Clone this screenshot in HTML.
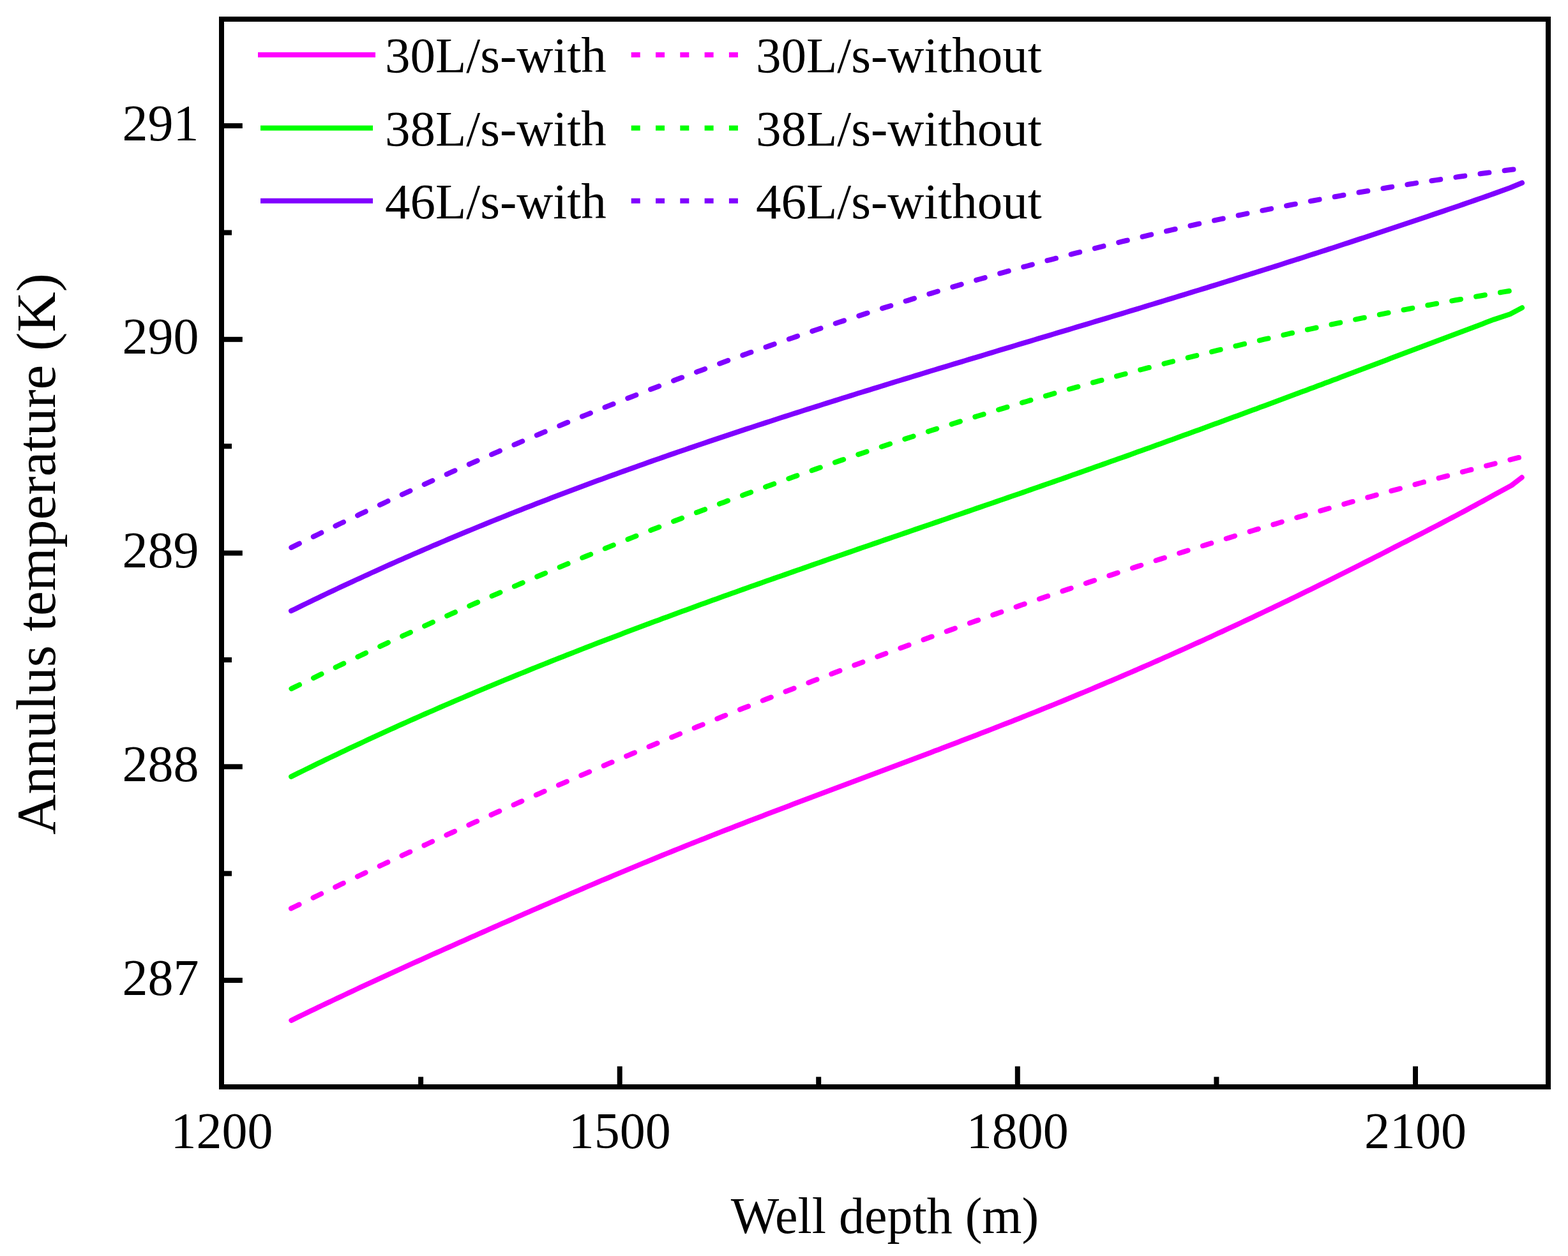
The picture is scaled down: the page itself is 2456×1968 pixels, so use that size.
<!DOCTYPE html>
<html><head><meta charset="utf-8"><title>Annulus temperature vs well depth</title>
<style>
html,body{margin:0;padding:0;background:#fff;}
body{width:2456px;height:1968px;overflow:hidden;}
svg{display:block;}
text{font-family:"Liberation Serif","Times New Roman",serif;fill:#000;}
</style></head><body>
<svg width="2456" height="1968" viewBox="0 0 2456 1968">
<rect x="0" y="0" width="2456" height="1968" fill="#fff"/>
<g fill="none" stroke-width="8" stroke-linecap="round" stroke-linejoin="round">
<path d="M456.3 1598.8L462.3 1595.9L468.3 1592.9L474.3 1590L480.3 1587.1L486.3 1584.2L492.3 1581.3L498.3 1578.4L504.3 1575.5L510.3 1572.7L516.3 1569.8L522.3 1567L528.3 1564.1L534.3 1561.3L540.3 1558.5L546.3 1555.6L552.3 1552.8L558.3 1550L564.3 1547.2L570.3 1544.4L576.3 1541.7L582.3 1538.9L588.3 1536.1L594.3 1533.3L600.3 1530.6L606.3 1527.8L612.3 1525.1L618.3 1522.3L624.3 1519.6L630.3 1516.9L636.3 1514.1L642.3 1511.4L648.3 1508.7L654.3 1506L660.3 1503.3L666.3 1500.6L672.3 1497.9L678.3 1495.2L684.3 1492.5L690.3 1489.8L696.3 1487.1L702.3 1484.5L708.3 1481.8L714.3 1479.1L720.3 1476.4L726.3 1473.8L732.3 1471.1L738.3 1468.4L744.3 1465.8L750.3 1463.1L756.3 1460.5L762.3 1457.8L768.3 1455.2L774.3 1452.5L780.3 1449.9L786.3 1447.2L792.3 1444.6L798.3 1442L804.3 1439.3L810.3 1436.7L816.3 1434.1L822.3 1431.4L828.3 1428.8L834.3 1426.2L840.3 1423.6L846.3 1421L852.3 1418.4L858.3 1415.8L864.3 1413.2L870.3 1410.6L876.3 1408L882.3 1405.4L888.3 1402.8L894.3 1400.2L900.3 1397.6L906.3 1395.1L912.3 1392.5L918.3 1389.9L924.3 1387.4L930.3 1384.8L936.3 1382.3L942.3 1379.7L948.3 1377.2L954.3 1374.7L960.3 1372.1L966.3 1369.6L972.3 1367.1L978.3 1364.6L984.3 1362.1L990.3 1359.6L996.3 1357.1L1002.3 1354.6L1008.3 1352.1L1014.3 1349.7L1020.3 1347.2L1026.3 1344.7L1032.3 1342.3L1038.3 1339.8L1044.3 1337.4L1050.3 1335L1056.3 1332.5L1062.3 1330.1L1068.3 1327.7L1074.3 1325.3L1080.3 1322.9L1086.3 1320.5L1092.3 1318.1L1098.3 1315.7L1104.3 1313.4L1110.3 1311L1116.3 1308.6L1122.3 1306.3L1128.3 1303.9L1134.3 1301.6L1140.3 1299.2L1146.3 1296.9L1152.3 1294.6L1158.3 1292.2L1164.3 1289.9L1170.3 1287.6L1176.3 1285.3L1182.3 1283L1188.3 1280.7L1194.3 1278.4L1200.3 1276.1L1206.3 1273.8L1212.3 1271.5L1218.3 1269.2L1224.3 1266.9L1230.3 1264.7L1236.3 1262.4L1242.3 1260.1L1248.3 1257.8L1254.3 1255.6L1260.3 1253.3L1266.3 1251L1272.3 1248.8L1278.3 1246.5L1284.3 1244.3L1290.3 1242L1296.3 1239.8L1302.3 1237.5L1308.3 1235.3L1314.3 1233L1320.3 1230.8L1326.3 1228.5L1332.3 1226.3L1338.3 1224L1344.3 1221.8L1350.3 1219.5L1356.3 1217.3L1362.3 1215L1368.3 1212.8L1374.3 1210.5L1380.3 1208.3L1386.3 1206L1392.3 1203.8L1398.3 1201.5L1404.3 1199.3L1410.3 1197L1416.3 1194.8L1422.3 1192.5L1428.3 1190.2L1434.3 1188L1440.3 1185.7L1446.3 1183.4L1452.3 1181.2L1458.3 1178.9L1464.3 1176.6L1470.3 1174.4L1476.3 1172.1L1482.3 1169.8L1488.3 1167.5L1494.3 1165.2L1500.3 1162.9L1506.3 1160.6L1512.3 1158.3L1518.3 1156L1524.3 1153.7L1530.3 1151.4L1536.3 1149.1L1542.3 1146.8L1548.3 1144.5L1554.3 1142.1L1560.3 1139.8L1566.3 1137.4L1572.3 1135.1L1578.3 1132.7L1584.3 1130.4L1590.3 1128L1596.3 1125.7L1602.3 1123.3L1608.3 1120.9L1614.3 1118.5L1620.3 1116.1L1626.3 1113.7L1632.3 1111.3L1638.3 1108.9L1644.3 1106.5L1650.3 1104.1L1656.3 1101.6L1662.3 1099.2L1668.3 1096.7L1674.3 1094.3L1680.3 1091.8L1686.3 1089.3L1692.3 1086.8L1698.3 1084.4L1704.3 1081.9L1710.3 1079.3L1716.3 1076.8L1722.3 1074.3L1728.3 1071.8L1734.3 1069.2L1740.3 1066.7L1746.3 1064.1L1752.3 1061.6L1758.3 1059L1764.3 1056.4L1770.3 1053.8L1776.3 1051.3L1782.3 1048.7L1788.3 1046L1794.3 1043.4L1800.3 1040.8L1806.3 1038.2L1812.3 1035.5L1818.3 1032.9L1824.3 1030.2L1830.3 1027.6L1836.3 1024.9L1842.3 1022.2L1848.3 1019.5L1854.3 1016.8L1860.3 1014.1L1866.3 1011.4L1872.3 1008.7L1878.3 1006L1884.3 1003.3L1890.3 1000.5L1896.3 997.8L1902.3 995L1908.3 992.2L1914.3 989.5L1920.3 986.7L1926.3 983.9L1932.3 981.1L1938.3 978.3L1944.3 975.5L1950.3 972.7L1956.3 969.9L1962.3 967.1L1968.3 964.2L1974.3 961.4L1980.3 958.5L1986.3 955.7L1992.3 952.8L1998.3 949.9L2004.3 947.1L2010.3 944.2L2016.3 941.3L2022.3 938.4L2028.3 935.5L2034.3 932.6L2040.3 929.6L2046.3 926.7L2052.3 923.8L2058.3 920.8L2064.3 917.9L2070.3 914.9L2076.3 912L2082.3 909L2088.3 906L2094.3 903L2100.3 900L2106.3 897L2112.3 894L2118.3 891L2124.3 888L2130.3 885L2136.3 881.9L2142.3 878.9L2148.3 875.9L2154.3 872.8L2160.3 869.8L2166.3 866.7L2172.3 863.6L2178.3 860.5L2184.3 857.4L2190.3 854.4L2196.3 851.3L2202.3 848.3L2208.3 845.2L2214.3 842.2L2220.3 839.1L2226.3 836.1L2232.3 833L2238.3 829.9L2244.3 826.8L2250.3 823.7L2256.3 820.6L2262.3 817.4L2268.3 814.3L2274.3 811.1L2280.3 808L2286.3 804.8L2292.3 801.6L2298.3 798.4L2304.3 795.1L2310.3 791.9L2316.3 788.6L2322.3 785.4L2328.3 782.1L2334.3 778.8L2340 775.6L2367.6 760.5L2383.7 748.1" stroke="#ff00ff"/>
<path d="M456 1423.4L462 1420.5L468 1417.6L474 1414.6L480 1411.7L486 1408.8L492 1405.9L498 1403L504 1400.1L510 1397.2L516 1394.4L522 1391.5L528 1388.6L534 1385.7L540 1382.9L546 1380L552 1377.2L558 1374.3L564 1371.5L570 1368.6L576 1365.8L582 1362.9L588 1360.1L594 1357.3L600 1354.5L606 1351.7L612 1348.8L618 1346L624 1343.2L630 1340.4L636 1337.7L642 1334.9L648 1332.1L654 1329.3L660 1326.5L666 1323.8L672 1321L678 1318.2L684 1315.5L690 1312.7L696 1310L702 1307.2L708 1304.5L714 1301.8L720 1299L726 1296.3L732 1293.6L738 1290.9L744 1288.2L750 1285.5L756 1282.8L762 1280.1L768 1277.4L774 1274.7L780 1272L786 1269.3L792 1266.7L798 1264L804 1261.3L810 1258.7L816 1256L822 1253.4L828 1250.7L834 1248.1L840 1245.5L846 1242.8L852 1240.2L858 1237.6L864 1235L870 1232.3L876 1229.7L882 1227.1L888 1224.5L894 1221.9L900 1219.3L906 1216.8L912 1214.2L918 1211.6L924 1209L930 1206.5L936 1203.9L942 1201.3L948 1198.8L954 1196.2L960 1193.7L966 1191.1L972 1188.6L978 1186.1L984 1183.6L990 1181L996 1178.5L1002 1176L1008 1173.5L1014 1171L1020 1168.5L1026 1166L1032 1163.5L1038 1161L1044 1158.5L1050 1156.1L1056 1153.6L1062 1151.1L1068 1148.6L1074 1146.2L1080 1143.7L1086 1141.3L1092 1138.8L1098 1136.4L1104 1134L1110 1131.5L1116 1129.1L1122 1126.7L1128 1124.3L1134 1121.8L1140 1119.4L1146 1117L1152 1114.6L1158 1112.2L1164 1109.8L1170 1107.5L1176 1105.1L1182 1102.7L1188 1100.3L1194 1097.9L1200 1095.6L1206 1093.2L1212 1090.9L1218 1088.5L1224 1086.2L1230 1083.8L1236 1081.5L1242 1079.2L1248 1076.8L1254 1074.5L1260 1072.2L1266 1069.9L1272 1067.6L1278 1065.3L1284 1063L1290 1060.7L1296 1058.4L1302 1056.1L1308 1053.8L1314 1051.5L1320 1049.2L1326 1047L1332 1044.7L1338 1042.4L1344 1040.2L1350 1037.9L1356 1035.7L1362 1033.4L1368 1031.2L1374 1029L1380 1026.7L1386 1024.5L1392 1022.3L1398 1020.1L1404 1017.9L1410 1015.6L1416 1013.4L1422 1011.2L1428 1009.1L1434 1006.9L1440 1004.7L1446 1002.5L1452 1000.3L1458 998.1L1464 996L1470 993.8L1476 991.7L1482 989.5L1488 987.4L1494 985.2L1500 983.1L1506 980.9L1512 978.8L1518 976.7L1524 974.5L1530 972.4L1536 970.3L1542 968.2L1548 966.1L1554 964L1560 961.9L1566 959.8L1572 957.7L1578 955.6L1584 953.6L1590 951.5L1596 949.4L1602 947.3L1608 945.3L1614 943.2L1620 941.2L1626 939.1L1632 937.1L1638 935L1644 933L1650 931L1656 929L1662 926.9L1668 924.9L1674 922.9L1680 920.9L1686 918.9L1692 916.9L1698 914.9L1704 912.9L1710 910.9L1716 908.9L1722 907L1728 905L1734 903L1740 901.1L1746 899.1L1752 897.1L1758 895.2L1764 893.2L1770 891.3L1776 889.4L1782 887.4L1788 885.5L1794 883.6L1800 881.7L1806 879.7L1812 877.8L1818 875.9L1824 874L1830 872.1L1836 870.2L1842 868.3L1848 866.5L1854 864.6L1860 862.7L1866 860.8L1872 859L1878 857.1L1884 855.2L1890 853.4L1896 851.5L1902 849.7L1908 847.9L1914 846L1920 844.2L1926 842.4L1932 840.5L1938 838.7L1944 836.9L1950 835.1L1956 833.3L1962 831.5L1968 829.7L1974 827.9L1980 826.1L1986 824.3L1992 822.5L1998 820.8L2004 819L2010 817.2L2016 815.5L2022 813.7L2028 812L2034 810.2L2040 808.5L2046 806.7L2052 805L2058 803.3L2064 801.5L2070 799.8L2076 798.1L2082 796.4L2088 794.7L2094 793L2100 791.3L2106 789.6L2112 787.9L2118 786.2L2124 784.5L2130 782.8L2136 781.1L2142 779.5L2148 777.8L2154 776.1L2160 774.5L2166 772.8L2172 771.2L2178 769.5L2184 767.9L2190 766.3L2196 764.6L2202 763L2208 761.4L2214 759.8L2220 758.1L2226 756.5L2232 754.9L2238 753.3L2244 751.7L2250 750.1L2256 748.5L2262 747L2268 745.4L2274 743.8L2280 742.2L2286 740.7L2292 739.1L2298 737.5L2304 736L2310 734.4L2316 732.9L2322 731.4L2328 729.8L2334 728.3L2340 726.8L2346 725.2L2352 723.7L2358 722.2L2364 720.7L2370 719.2L2376 717.7L2382 716.2L2384.1 715.7" stroke="#ff00ff" stroke-dasharray="14 24.461" stroke-dashoffset="0.07"/>
<path d="M456.1 1216.9L462.1 1213.9L468.1 1210.9L474.1 1208L480.1 1205L486.1 1202.1L492.1 1199.1L498.1 1196.2L504.1 1193.3L510.1 1190.4L516.1 1187.5L522.1 1184.6L528.1 1181.8L534.1 1178.9L540.1 1176.1L546.1 1173.2L552.1 1170.4L558.1 1167.6L564.1 1164.8L570.1 1162L576.1 1159.2L582.1 1156.4L588.1 1153.6L594.1 1150.9L600.1 1148.1L606.1 1145.4L612.1 1142.7L618.1 1140L624.1 1137.2L630.1 1134.5L636.1 1131.9L642.1 1129.2L648.1 1126.5L654.1 1123.8L660.1 1121.2L666.1 1118.5L672.1 1115.9L678.1 1113.3L684.1 1110.7L690.1 1108L696.1 1105.4L702.1 1102.8L708.1 1100.3L714.1 1097.7L720.1 1095.1L726.1 1092.6L732.1 1090L738.1 1087.5L744.1 1084.9L750.1 1082.4L756.1 1079.9L762.1 1077.4L768.1 1074.9L774.1 1072.4L780.1 1069.9L786.1 1067.4L792.1 1064.9L798.1 1062.5L804.1 1060L810.1 1057.5L816.1 1055.1L822.1 1052.7L828.1 1050.2L834.1 1047.8L840.1 1045.4L846.1 1043L852.1 1040.6L858.1 1038.2L864.1 1035.8L870.1 1033.4L876.1 1031L882.1 1028.7L888.1 1026.3L894.1 1024L900.1 1021.6L906.1 1019.3L912.1 1016.9L918.1 1014.6L924.1 1012.3L930.1 1009.9L936.1 1007.6L942.1 1005.3L948.1 1003L954.1 1000.7L960.1 998.4L966.1 996.2L972.1 993.9L978.1 991.6L984.1 989.3L990.1 987.1L996.1 984.8L1002.1 982.6L1008.1 980.3L1014.1 978.1L1020.1 975.8L1026.1 973.6L1032.1 971.4L1038.1 969.1L1044.1 966.9L1050.1 964.7L1056.1 962.5L1062.1 960.3L1068.1 958.1L1074.1 955.9L1080.1 953.7L1086.1 951.5L1092.1 949.3L1098.1 947.1L1104.1 945L1110.1 942.8L1116.1 940.6L1122.1 938.5L1128.1 936.3L1134.1 934.1L1140.1 932L1146.1 929.8L1152.1 927.7L1158.1 925.5L1164.1 923.4L1170.1 921.3L1176.1 919.1L1182.1 917L1188.1 914.9L1194.1 912.8L1200.1 910.6L1206.1 908.5L1212.1 906.4L1218.1 904.3L1224.1 902.2L1230.1 900.1L1236.1 898L1242.1 895.9L1248.1 893.8L1254.1 891.7L1260.1 889.6L1266.1 887.5L1272.1 885.4L1278.1 883.3L1284.1 881.2L1290.1 879.1L1296.1 877L1302.1 874.9L1308.1 872.9L1314.1 870.8L1320.1 868.7L1326.1 866.6L1332.1 864.6L1338.1 862.5L1344.1 860.4L1350.1 858.3L1356.1 856.3L1362.1 854.2L1368.1 852.1L1374.1 850.1L1380.1 848L1386.1 845.9L1392.1 843.9L1398.1 841.8L1404.1 839.7L1410.1 837.7L1416.1 835.6L1422.1 833.6L1428.1 831.5L1434.1 829.4L1440.1 827.4L1446.1 825.3L1452.1 823.3L1458.1 821.2L1464.1 819.1L1470.1 817.1L1476.1 815L1482.1 813L1488.1 810.9L1494.1 808.8L1500.1 806.8L1506.1 804.7L1512.1 802.6L1518.1 800.6L1524.1 798.5L1530.1 796.4L1536.1 794.4L1542.1 792.3L1548.1 790.2L1554.1 788.2L1560.1 786.1L1566.1 784L1572.1 782L1578.1 779.9L1584.1 777.8L1590.1 775.7L1596.1 773.7L1602.1 771.6L1608.1 769.5L1614.1 767.4L1620.1 765.3L1626.1 763.2L1632.1 761.1L1638.1 759L1644.1 757L1650.1 754.9L1656.1 752.8L1662.1 750.7L1668.1 748.6L1674.1 746.4L1680.1 744.3L1686.1 742.2L1692.1 740.1L1698.1 738L1704.1 735.9L1710.1 733.8L1716.1 731.6L1722.1 729.5L1728.1 727.4L1734.1 725.3L1740.1 723.1L1746.1 721L1752.1 718.8L1758.1 716.7L1764.1 714.6L1770.1 712.4L1776.1 710.3L1782.1 708.1L1788.1 706L1794.1 703.8L1800.1 701.7L1806.1 699.5L1812.1 697.3L1818.1 695.2L1824.1 693L1830.1 690.8L1836.1 688.7L1842.1 686.5L1848.1 684.3L1854.1 682.1L1860.1 680L1866.1 677.8L1872.1 675.6L1878.1 673.4L1884.1 671.2L1890.1 669L1896.1 666.8L1902.1 664.6L1908.1 662.4L1914.1 660.2L1920.1 658L1926.1 655.8L1932.1 653.6L1938.1 651.4L1944.1 649.2L1950.1 647L1956.1 644.8L1962.1 642.6L1968.1 640.4L1974.1 638.1L1980.1 635.9L1986.1 633.7L1992.1 631.5L1998.1 629.2L2004.1 627L2010.1 624.8L2016.1 622.5L2022.1 620.3L2028.1 618.1L2034.1 615.8L2040.1 613.6L2046.1 611.4L2052.1 609.1L2058.1 606.9L2064.1 604.6L2070.1 602.4L2076.1 600.1L2082.1 597.9L2088.1 595.6L2094.1 593.4L2100.1 591.1L2106.1 588.8L2112.1 586.6L2118.1 584.3L2124.1 582L2130.1 579.8L2136.1 577.5L2142.1 575.2L2148.1 573L2154.1 570.7L2160.1 568.4L2166.1 566.2L2172.1 563.9L2178.1 561.6L2184.1 559.3L2190.1 557L2196.1 554.8L2202.1 552.5L2208.1 550.3L2214.1 548.1L2220.1 545.8L2226.1 543.6L2232.1 541.3L2238.1 539.1L2244.1 536.8L2250.1 534.5L2256.1 532.3L2262.1 530L2268.1 527.8L2274.1 525.5L2280.1 523.3L2286.1 521L2292.1 518.7L2298.1 516.5L2304.1 514.2L2310.1 511.9L2316.1 509.7L2322.1 507.4L2328.1 505.1L2334.1 502.8L2340 500.6L2365.2 492.2L2384 482.2" stroke="#00ff00"/>
<path d="M456 1079.3L462 1076.4L468 1073.5L474 1070.5L480 1067.6L486 1064.7L492 1061.8L498 1058.9L504 1056L510 1053.1L516 1050.3L522 1047.4L528 1044.5L534 1041.7L540 1038.8L546 1036L552 1033.1L558 1030.3L564 1027.5L570 1024.6L576 1021.8L582 1019L588 1016.2L594 1013.4L600 1010.6L606 1007.8L612 1005.1L618 1002.3L624 999.5L630 996.8L636 994L642 991.3L648 988.5L654 985.8L660 983.1L666 980.3L672 977.6L678 974.9L684 972.2L690 969.5L696 966.8L702 964.1L708 961.4L714 958.8L720 956.1L726 953.4L732 950.8L738 948.1L744 945.5L750 942.9L756 940.2L762 937.6L768 935L774 932.4L780 929.8L786 927.2L792 924.6L798 922L804 919.4L810 916.8L816 914.3L822 911.7L828 909.1L834 906.6L840 904L846 901.5L852 899L858 896.4L864 893.9L870 891.4L876 888.9L882 886.4L888 883.9L894 881.4L900 878.9L906 876.5L912 874L918 871.5L924 869.1L930 866.6L936 864.2L942 861.7L948 859.3L954 856.9L960 854.4L966 852L972 849.6L978 847.2L984 844.8L990 842.4L996 840L1002 837.7L1008 835.3L1014 832.9L1020 830.6L1026 828.2L1032 825.9L1038 823.5L1044 821.2L1050 818.9L1056 816.5L1062 814.2L1068 811.9L1074 809.6L1080 807.3L1086 805L1092 802.7L1098 800.4L1104 798.2L1110 795.9L1116 793.6L1122 791.4L1128 789.1L1134 786.9L1140 784.6L1146 782.4L1152 780.2L1158 778L1164 775.8L1170 773.6L1176 771.4L1182 769.2L1188 767L1194 764.8L1200 762.6L1206 760.4L1212 758.3L1218 756.1L1224 754L1230 751.8L1236 749.7L1242 747.5L1248 745.4L1254 743.3L1260 741.2L1266 739.1L1272 737L1278 734.9L1284 732.8L1290 730.7L1296 728.6L1302 726.6L1308 724.5L1314 722.4L1320 720.4L1326 718.3L1332 716.3L1338 714.2L1344 712.2L1350 710.2L1356 708.2L1362 706.2L1368 704.2L1374 702.2L1380 700.2L1386 698.2L1392 696.2L1398 694.2L1404 692.3L1410 690.3L1416 688.3L1422 686.4L1428 684.5L1434 682.5L1440 680.6L1446 678.7L1452 676.7L1458 674.8L1464 672.9L1470 671L1476 669.1L1482 667.2L1488 665.4L1494 663.5L1500 661.6L1506 659.7L1512 657.9L1518 656L1524 654.2L1530 652.3L1536 650.5L1542 648.7L1548 646.9L1554 645L1560 643.2L1566 641.4L1572 639.6L1578 637.8L1584 636.1L1590 634.3L1596 632.5L1602 630.7L1608 629L1614 627.2L1620 625.5L1626 623.7L1632 622L1638 620.3L1644 618.6L1650 616.8L1656 615.1L1662 613.4L1668 611.7L1674 610L1680 608.3L1686 606.7L1692 605L1698 603.3L1704 601.6L1710 600L1716 598.3L1722 596.7L1728 595.1L1734 593.4L1740 591.8L1746 590.2L1752 588.6L1758 587L1764 585.4L1770 583.8L1776 582.2L1782 580.6L1788 579L1794 577.4L1800 575.9L1806 574.3L1812 572.8L1818 571.2L1824 569.7L1830 568.1L1836 566.6L1842 565.1L1848 563.6L1854 562.1L1860 560.6L1866 559.1L1872 557.6L1878 556.1L1884 554.6L1890 553.1L1896 551.7L1902 550.2L1908 548.7L1914 547.3L1920 545.8L1926 544.4L1932 543L1938 541.6L1944 540.1L1950 538.7L1956 537.3L1962 535.9L1968 534.5L1974 533.1L1980 531.7L1986 530.4L1992 529L1998 527.6L2004 526.3L2010 524.9L2016 523.6L2022 522.2L2028 520.9L2034 519.6L2040 518.2L2046 516.9L2052 515.6L2058 514.3L2064 513L2070 511.7L2076 510.4L2082 509.2L2088 507.9L2094 506.6L2100 505.4L2106 504.1L2112 502.9L2118 501.6L2124 500.4L2130 499.1L2136 497.9L2142 496.7L2148 495.5L2154 494.3L2160 493.1L2166 491.9L2172 490.7L2178 489.5L2184 488.3L2190 487.2L2196 486L2202 484.8L2208 483.7L2214 482.5L2220 481.4L2226 480.3L2232 479.1L2238 478L2244 476.9L2250 475.8L2256 474.7L2262 473.6L2268 472.5L2274 471.4L2280 470.3L2286 469.3L2292 468.2L2298 467.1L2304 466.1L2310 465L2316 464L2322 463L2328 461.9L2334 460.9L2340 459.9L2346 458.9L2352 457.9L2358 456.9L2364 455.9L2370 454.9L2376 453.9L2382 452.9L2383.8 452.6" stroke="#00ff00" stroke-dasharray="14 24.457" stroke-dashoffset="38.01"/>
<path d="M456 957.2L462 954.3L468 951.3L474 948.4L480 945.5L486 942.6L492 939.7L498 936.8L504 933.9L510 931L516 928.2L522 925.3L528 922.5L534 919.7L540 916.9L546 914.1L552 911.3L558 908.5L564 905.8L570 903L576 900.3L582 897.5L588 894.8L594 892.1L600 889.4L606 886.7L612 884L618 881.4L624 878.7L630 876.1L636 873.4L642 870.8L648 868.2L654 865.6L660 863L666 860.4L672 857.8L678 855.2L684 852.7L690 850.1L696 847.6L702 845L708 842.5L714 840L720 837.5L726 835L732 832.5L738 830.1L744 827.6L750 825.1L756 822.7L762 820.2L768 817.8L774 815.4L780 813L786 810.6L792 808.2L798 805.8L804 803.4L810 801.1L816 798.7L822 796.3L828 794L834 791.7L840 789.3L846 787L852 784.7L858 782.4L864 780.1L870 777.8L876 775.5L882 773.2L888 771L894 768.7L900 766.5L906 764.2L912 762L918 759.8L924 757.5L930 755.3L936 753.1L942 750.9L948 748.7L954 746.5L960 744.4L966 742.2L972 740L978 737.9L984 735.7L990 733.6L996 731.4L1002 729.3L1008 727.2L1014 725L1020 722.9L1026 720.8L1032 718.7L1038 716.6L1044 714.5L1050 712.4L1056 710.4L1062 708.3L1068 706.2L1074 704.2L1080 702.1L1086 700.1L1092 698L1098 696L1104 694L1110 691.9L1116 689.9L1122 687.9L1128 685.9L1134 683.9L1140 681.9L1146 679.9L1152 677.9L1158 675.9L1164 673.9L1170 671.9L1176 670L1182 668L1188 666L1194 664.1L1200 662.1L1206 660.2L1212 658.2L1218 656.3L1224 654.3L1230 652.4L1236 650.5L1242 648.5L1248 646.6L1254 644.7L1260 642.8L1266 640.9L1272 639L1278 637.1L1284 635.2L1290 633.3L1296 631.4L1302 629.5L1308 627.6L1314 625.7L1320 623.8L1326 622L1332 620.1L1338 618.2L1344 616.3L1350 614.5L1356 612.6L1362 610.8L1368 608.9L1374 607.1L1380 605.2L1386 603.4L1392 601.5L1398 599.7L1404 597.8L1410 596L1416 594.1L1422 592.3L1428 590.5L1434 588.6L1440 586.8L1446 585L1452 583.2L1458 581.3L1464 579.5L1470 577.7L1476 575.9L1482 574.1L1488 572.2L1494 570.4L1500 568.6L1506 566.8L1512 565L1518 563.2L1524 561.4L1530 559.6L1536 557.8L1542 556L1548 554.2L1554 552.4L1560 550.5L1566 548.7L1572 546.9L1578 545.1L1584 543.3L1590 541.5L1596 539.7L1602 537.9L1608 536.1L1614 534.3L1620 532.5L1626 530.7L1632 528.9L1638 527.1L1644 525.3L1650 523.5L1656 521.7L1662 519.9L1668 518.1L1674 516.3L1680 514.5L1686 512.7L1692 510.9L1698 509.1L1704 507.3L1710 505.5L1716 503.7L1722 501.9L1728 500.1L1734 498.3L1740 496.5L1746 494.7L1752 492.9L1758 491.1L1764 489.2L1770 487.4L1776 485.6L1782 483.8L1788 482L1794 480.2L1800 478.3L1806 476.5L1812 474.7L1818 472.9L1824 471L1830 469.2L1836 467.4L1842 465.5L1848 463.7L1854 461.9L1860 460L1866 458.2L1872 456.3L1878 454.5L1884 452.6L1890 450.8L1896 448.9L1902 447.1L1908 445.2L1914 443.4L1920 441.5L1926 439.6L1932 437.8L1938 435.9L1944 434L1950 432.2L1956 430.3L1962 428.4L1968 426.5L1974 424.6L1980 422.7L1986 420.9L1992 419L1998 417.1L2004 415.2L2010 413.3L2016 411.3L2022 409.4L2028 407.5L2034 405.6L2040 403.7L2046 401.8L2052 399.8L2058 397.9L2064 396L2070 394L2076 392.1L2082 390.1L2088 388.2L2094 386.2L2100 384.3L2106 382.3L2112 380.4L2118 378.4L2124 376.4L2130 374.4L2136 372.5L2142 370.5L2148 368.5L2154 366.5L2160 364.5L2166 362.5L2172 360.5L2178 358.5L2184 356.5L2190 354.5L2196 352.5L2202 350.5L2208 348.5L2214 346.5L2220 344.5L2226 342.5L2232 340.5L2238 338.5L2244 336.4L2250 334.4L2256 332.4L2262 330.4L2268 328.3L2274 326.3L2280 324.2L2286 322.2L2292 320.1L2298 318L2304 316L2310 313.9L2316 311.8L2322 309.7L2328 307.6L2334 305.5L2340 303.4L2365.2 294.3L2384 286.5" stroke="#8000ff"/>
<path d="M455.9 858.1L461.9 855.1L467.9 852.2L473.9 849.2L479.9 846.3L485.9 843.3L491.9 840.4L497.9 837.5L503.9 834.5L509.9 831.6L515.9 828.7L521.9 825.8L527.9 822.9L533.9 820L539.9 817.2L545.9 814.3L551.9 811.4L557.9 808.6L563.9 805.7L569.9 802.9L575.9 800L581.9 797.2L587.9 794.4L593.9 791.6L599.9 788.8L605.9 786L611.9 783.2L617.9 780.4L623.9 777.6L629.9 774.8L635.9 772.1L641.9 769.3L647.9 766.6L653.9 763.8L659.9 761.1L665.9 758.3L671.9 755.6L677.9 752.9L683.9 750.2L689.9 747.5L695.9 744.8L701.9 742.1L707.9 739.4L713.9 736.8L719.9 734.1L725.9 731.4L731.9 728.8L737.9 726.1L743.9 723.5L749.9 720.9L755.9 718.3L761.9 715.6L767.9 713L773.9 710.4L779.9 707.8L785.9 705.2L791.9 702.7L797.9 700.1L803.9 697.5L809.9 695L815.9 692.4L821.9 689.9L827.9 687.3L833.9 684.8L839.9 682.3L845.9 679.8L851.9 677.2L857.9 674.7L863.9 672.2L869.9 669.8L875.9 667.3L881.9 664.8L887.9 662.3L893.9 659.9L899.9 657.4L905.9 655L911.9 652.5L917.9 650.1L923.9 647.7L929.9 645.3L935.9 642.8L941.9 640.4L947.9 638L953.9 635.6L959.9 633.3L965.9 630.9L971.9 628.5L977.9 626.2L983.9 623.8L989.9 621.5L995.9 619.1L1001.9 616.8L1007.9 614.5L1013.9 612.1L1019.9 609.8L1025.9 607.5L1031.9 605.2L1037.9 602.9L1043.9 600.6L1049.9 598.4L1055.9 596.1L1061.9 593.8L1067.9 591.6L1073.9 589.3L1079.9 587.1L1085.9 584.8L1091.9 582.6L1097.9 580.4L1103.9 578.2L1109.9 576L1115.9 573.8L1121.9 571.6L1127.9 569.4L1133.9 567.2L1139.9 565L1145.9 562.9L1151.9 560.7L1157.9 558.5L1163.9 556.4L1169.9 554.3L1175.9 552.1L1181.9 550L1187.9 547.9L1193.9 545.8L1199.9 543.7L1205.9 541.6L1211.9 539.5L1217.9 537.4L1223.9 535.3L1229.9 533.3L1235.9 531.2L1241.9 529.2L1247.9 527.1L1253.9 525.1L1259.9 523L1265.9 521L1271.9 519L1277.9 517L1283.9 515L1289.9 513L1295.9 511L1301.9 509L1307.9 507L1313.9 505L1319.9 503.1L1325.9 501.1L1331.9 499.2L1337.9 497.2L1343.9 495.3L1349.9 493.4L1355.9 491.4L1361.9 489.5L1367.9 487.6L1373.9 485.7L1379.9 483.8L1385.9 481.9L1391.9 480.1L1397.9 478.2L1403.9 476.3L1409.9 474.5L1415.9 472.6L1421.9 470.8L1427.9 468.9L1433.9 467.1L1439.9 465.3L1445.9 463.4L1451.9 461.6L1457.9 459.8L1463.9 458L1469.9 456.2L1475.9 454.5L1481.9 452.7L1487.9 450.9L1493.9 449.1L1499.9 447.4L1505.9 445.6L1511.9 443.9L1517.9 442.2L1523.9 440.4L1529.9 438.7L1535.9 437L1541.9 435.3L1547.9 433.6L1553.9 431.9L1559.9 430.2L1565.9 428.5L1571.9 426.9L1577.9 425.2L1583.9 423.5L1589.9 421.9L1595.9 420.2L1601.9 418.6L1607.9 417L1613.9 415.4L1619.9 413.7L1625.9 412.1L1631.9 410.5L1637.9 408.9L1643.9 407.3L1649.9 405.8L1655.9 404.2L1661.9 402.6L1667.9 401L1673.9 399.5L1679.9 397.9L1685.9 396.4L1691.9 394.9L1697.9 393.3L1703.9 391.8L1709.9 390.3L1715.9 388.8L1721.9 387.3L1727.9 385.8L1733.9 384.3L1739.9 382.8L1745.9 381.4L1751.9 379.9L1757.9 378.4L1763.9 377L1769.9 375.5L1775.9 374.1L1781.9 372.7L1787.9 371.2L1793.9 369.8L1799.9 368.4L1805.9 367L1811.9 365.6L1817.9 364.2L1823.9 362.8L1829.9 361.5L1835.9 360.1L1841.9 358.7L1847.9 357.4L1853.9 356L1859.9 354.7L1865.9 353.3L1871.9 352L1877.9 350.7L1883.9 349.4L1889.9 348.1L1895.9 346.8L1901.9 345.5L1907.9 344.2L1913.9 342.9L1919.9 341.6L1925.9 340.4L1931.9 339.1L1937.9 337.9L1943.9 336.6L1949.9 335.4L1955.9 334.1L1961.9 332.9L1967.9 331.7L1973.9 330.5L1979.9 329.3L1985.9 328.1L1991.9 326.9L1997.9 325.7L2003.9 324.5L2009.9 323.3L2015.9 322.2L2021.9 321L2027.9 319.9L2033.9 318.7L2039.9 317.6L2045.9 316.5L2051.9 315.3L2057.9 314.2L2063.9 313.1L2069.9 312L2075.9 310.9L2081.9 309.8L2087.9 308.7L2093.9 307.7L2099.9 306.6L2105.9 305.5L2111.9 304.5L2117.9 303.4L2123.9 302.4L2129.9 301.3L2135.9 300.3L2141.9 299.3L2147.9 298.3L2153.9 297.3L2159.9 296.3L2165.9 295.3L2171.9 294.3L2177.9 293.3L2183.9 292.3L2189.9 291.4L2195.9 290.4L2201.9 289.5L2207.9 288.5L2213.9 287.6L2219.9 286.6L2225.9 285.7L2231.9 284.8L2237.9 283.9L2243.9 283L2249.9 282.1L2255.9 281.2L2261.9 280.3L2267.9 279.4L2273.9 278.5L2279.9 277.7L2285.9 276.8L2291.9 276L2297.9 275.1L2303.9 274.3L2309.9 273.4L2315.9 272.6L2321.9 271.8L2327.9 271L2333.9 270.2L2339.9 269.4L2345.9 268.6L2351.9 267.8L2357.9 267L2363.9 266.3L2369.9 265.5L2375.9 264.7L2381.9 264L2383.8 263.8" stroke="#8000ff" stroke-dasharray="14 24.447" stroke-dashoffset="37.99"/>
</g>
<rect x="347" y="30" width="2078" height="1673" fill="none" stroke="#000" stroke-width="8"/>
<g fill="#000">
<rect x="966.7" y="1670.8" width="8" height="32"/>
<rect x="1589.8" y="1670.8" width="8" height="32"/>
<rect x="2213" y="1670.8" width="8" height="32"/>
<rect x="655.1" y="1687.3" width="8" height="16"/>
<rect x="1278.2" y="1687.3" width="8" height="16"/>
<rect x="1901.4" y="1687.3" width="8" height="16"/>
<rect x="347" y="193.1" width="32.8" height="8"/>
<rect x="347" y="527.8" width="32.8" height="8"/>
<rect x="347" y="862.6" width="32.8" height="8"/>
<rect x="347" y="1197.3" width="32.8" height="8"/>
<rect x="347" y="1532" width="32.8" height="8"/>
<rect x="347" y="360.5" width="16" height="8"/>
<rect x="347" y="695.2" width="16" height="8"/>
<rect x="347" y="1029.9" width="16" height="8"/>
<rect x="347" y="1364.7" width="16" height="8"/>
</g>
<g font-size="80">
<text x="311.5" y="219.7" text-anchor="end">291</text>
<text x="311.5" y="554.4" text-anchor="end">290</text>
<text x="311.5" y="889.2" text-anchor="end">289</text>
<text x="311.5" y="1223.9" text-anchor="end">288</text>
<text x="311.5" y="1558.6" text-anchor="end">287</text>
<text x="347.5" y="1799" text-anchor="middle">1200</text>
<text x="970.7" y="1799" text-anchor="middle">1500</text>
<text x="1593.8" y="1799" text-anchor="middle">1800</text>
<text x="2217" y="1799" text-anchor="middle">2100</text>
<text x="1386" y="1932" text-anchor="middle">Well depth (m)</text>
</g>
<text transform="translate(86 868) rotate(-90)" text-anchor="middle" font-size="87.5">Annulus temperature (K)</text>
<g font-size="79">
<rect x="404" y="81.9" width="184" height="8" fill="#ff00ff"/>
<rect x="988.7" y="81.9" width="14" height="8" fill="#ff00ff"/>
<rect x="1027" y="81.9" width="14" height="8" fill="#ff00ff"/>
<rect x="1065.3" y="81.9" width="14" height="8" fill="#ff00ff"/>
<rect x="1103.6" y="81.9" width="14" height="8" fill="#ff00ff"/>
<rect x="1141.9" y="81.9" width="14" height="8" fill="#ff00ff"/>
<text x="603" y="113">30L/s-with</text>
<text x="1184" y="113">30L/s-without</text>
<rect x="408" y="196.6" width="176" height="8" fill="#00ff00"/>
<rect x="988.7" y="196.6" width="14" height="8" fill="#00ff00"/>
<rect x="1027" y="196.6" width="14" height="8" fill="#00ff00"/>
<rect x="1065.3" y="196.6" width="14" height="8" fill="#00ff00"/>
<rect x="1103.6" y="196.6" width="14" height="8" fill="#00ff00"/>
<rect x="1141.9" y="196.6" width="14" height="8" fill="#00ff00"/>
<text x="603" y="227.7">38L/s-with</text>
<text x="1184" y="227.7">38L/s-without</text>
<rect x="408" y="310.7" width="176" height="8" fill="#8000ff"/>
<rect x="988.7" y="310.7" width="14" height="8" fill="#8000ff"/>
<rect x="1027" y="310.7" width="14" height="8" fill="#8000ff"/>
<rect x="1065.3" y="310.7" width="14" height="8" fill="#8000ff"/>
<rect x="1103.6" y="310.7" width="14" height="8" fill="#8000ff"/>
<rect x="1141.9" y="310.7" width="14" height="8" fill="#8000ff"/>
<text x="603" y="341.8">46L/s-with</text>
<text x="1184" y="341.8">46L/s-without</text>
</g>
</svg>
</body></html>
